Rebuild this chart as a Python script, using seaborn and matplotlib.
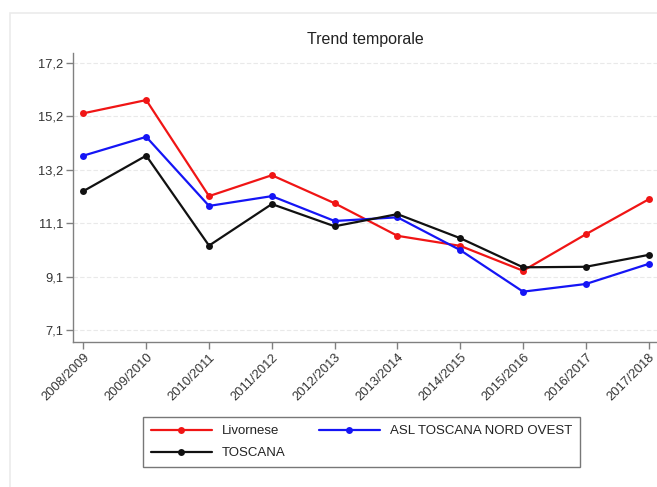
import numpy as np
import pandas as pd
import matplotlib
matplotlib.use("Agg")
import matplotlib.pyplot as plt
from matplotlib.lines import Line2D
from matplotlib.patches import Rectangle
import seaborn as sns

anni = ["2008/2009", "2009/2010", "2010/2011", "2011/2012", "2012/2013",
        "2013/2014", "2014/2015", "2015/2016", "2016/2017", "2017/2018"]
livornese = [15.29, 15.79, 12.16, 12.95, 11.89, 10.66, 10.28, 9.34, 10.72, 12.04]
asl_nord_ovest = [13.69, 14.40, 11.79, 12.16, 11.22, 11.36, 10.12, 8.55, 8.84, 9.60]
toscana = [12.35, 13.69, 10.29, 11.86, 11.02, 11.48, 10.57, 9.47, 9.49, 9.94]
serie = ["Livornese", "ASL TOSCANA NORD OVEST", "TOSCANA"]
colori = ["#f01515", "#1515f5", "#111111"]
titolo = "Trend temporale"

df = pd.DataFrame({"anno": anni, "Livornese": livornese,
                   "ASL TOSCANA NORD OVEST": asl_nord_ovest, "TOSCANA": toscana})
df["pos"] = range(len(anni))
df_long = df.melt(id_vars=["anno", "pos"], var_name="area", value_name="valore")

sns.set_style("white")
plt.rcParams["font.family"] = ["Liberation Sans", "DejaVu Sans"]

fig = plt.figure(figsize=(6.57, 4.87), dpi=100)
ax = fig.add_axes([0.1107, 0.2984, 0.891, 0.5934])

palette = dict(zip(serie, colori))
sns.lineplot(data=df_long, x="pos", y="valore", hue="area", hue_order=serie,
             palette=palette, marker="o", markersize=5, markeredgewidth=0,
             linewidth=1.6, legend=False, ax=ax)

yt = np.linspace(7.1, 17.2, 6)
ax.set_yticks(yt)
ax.set_yticklabels([f"{v:.1f}".replace(".", ",") for v in yt])
ax.set_xticks(range(len(anni)))
ax.set_xticklabels(anni, rotation=45, ha="right", va="top", rotation_mode="anchor")
ax.set_xlim(-0.17, 9.15)
ax.set_ylim(6.66, 17.58)
ax.set_xlabel("")
ax.set_ylabel("")

ax.grid(axis="y", color="#e9e9e9", linestyle=(0, (4, 2)), linewidth=0.8)
ax.set_axisbelow(True)
for s in ["top", "right"]:
    ax.spines[s].set_visible(False)
for s in ["left", "bottom"]:
    ax.spines[s].set_color("#808080")
    ax.spines[s].set_linewidth(1.0)
ax.tick_params(axis="both", which="both", direction="out", length=5, width=1,
               color="#808080", labelcolor="#333333", labelsize=9.3, pad=2,
               left=True, bottom=True)

ax.set_title(titolo, fontsize=11.5, color="#222222", pad=6)

# legend filled row by row: Livornese, ASL / TOSCANA
handles = {s: Line2D([0], [0], color=c, marker="o", markersize=5, markeredgewidth=0,
                     linewidth=1.6) for s, c in zip(serie, colori)}
ordine = ["Livornese", "TOSCANA", "ASL TOSCANA NORD OVEST"]
leg = fig.legend([handles[s] for s in ordine], ordine, ncol=2, loc="upper left",
                 bbox_to_anchor=(0.2177, 0.1437),
                 fontsize=9.5, frameon=True, fancybox=False, edgecolor="#555555",
                 handlelength=4.6, handletextpad=0.8, borderpad=0.6,
                 labelspacing=0.75, columnspacing=2.5, borderaxespad=0)
leg.get_frame().set_linewidth(1.0)
for t in leg.get_texts():
    t.set_color("#222222")

fig.add_artist(Rectangle((10 / 657, -0.05), 1.0, (487 - 13) / 487 + 0.05,
                         transform=fig.transFigure, fill=False,
                         edgecolor="#ebebeb", linewidth=1.2))

fig.savefig("out.png", dpi=100)
